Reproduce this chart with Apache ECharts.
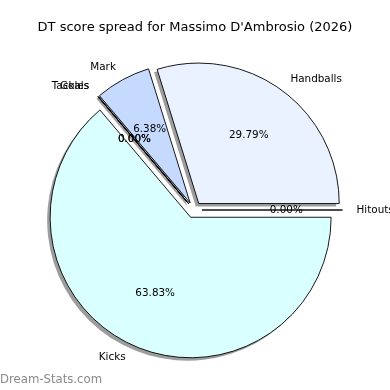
<!DOCTYPE html>
<html><head><meta charset="utf-8">
<script src="https://cdn.jsdelivr.net/npm/echarts@6/dist/echarts.min.js"></script>
<style>html,body{margin:0;padding:0;background:#fff}#c{width:390px;height:390px}</style>
</head><body><div id="c"></div>
<script>
const categories = ["Handballs", "Mark", "Goals", "Tackles", "Kicks", "Hitouts"];
const values = [14, 3, 0, 0, 30, 0];
const colors = ["#eaf1ff", "#c6d9ff", "#a9c4ff", "#9ab8ff", "#d9ffff", "#f0f0ff"];
const titleText = "DT score spread for Massimo D'Ambrosio (2026)";
const watermark = "Dream-Stats.com";

const R = 140.5, CX = 194, CY = 210, EXPL = 8;
const FONT = "DejaVu Sans";

const mainData = categories.map((c, i) => ({
  name: c, value: values[i], selected: true,
  itemStyle: { color: colors[i] }
}));
const plainData = categories.map((c, i) => ({ name: c, value: values[i], selected: true }));

const common = {
  type: 'pie', startAngle: 0, clockwise: false,
  selectedMode: 'multiple', selectedOffset: EXPL,
  avoidLabelOverlap: false, silent: true, minShowLabelAngle: 0,
  labelLayout: { hideOverlap: false },
  emphasis: { disabled: true }
};

const chart = echarts.init(document.getElementById('c'), null, { renderer: 'canvas' });
chart.setOption({
  animation: false,
  backgroundColor: '#fff',
  title: {
    text: titleText, left: 'center', top: 16,
    textStyle: { fontFamily: FONT, fontSize: 13, fontWeight: 'normal', color: '#000' }
  },
  graphic: [{
    type: 'text', left: 0, top: 374,
    style: { text: watermark, fontFamily: FONT, fontSize: 11.7, fill: '#8a8a8a' }
  }],
  series: [Object.assign({}, common, {
    // shadow layer
    center: [CX - 3, CY + 3], radius: R,
    itemStyle: { color: 'rgba(60,60,60,0.5)', borderWidth: 0 },
    label: { show: false }, labelLine: { show: false },
    data: plainData.map(d => Object.assign({}, d))
  }), Object.assign({}, common, {
    center: [CX, CY], radius: R,
    itemStyle: { borderColor: '#000', borderWidth: 0.9 },
    label: {
      show: true, position: 'outside', formatter: '{b}',
      fontFamily: FONT, fontSize: 10.4, color: '#000', distanceToLabelLine: 0
    },
    labelLine: { show: false, length: 14, length2: 0 },
    data: mainData
  }), Object.assign({}, common, {
    center: [CX, CY], radius: [22, R],
    itemStyle: { color: 'rgba(0,0,0,0)', borderWidth: 0 },
    label: {
      show: true, position: 'inside',
      formatter: p => p.percent.toFixed(2) + '%',
      fontFamily: FONT, fontSize: 10.4, color: '#000'
    },
    labelLine: { show: false },
    data: plainData.map(d => Object.assign({}, d))
  })]
});
</script></body></html>
